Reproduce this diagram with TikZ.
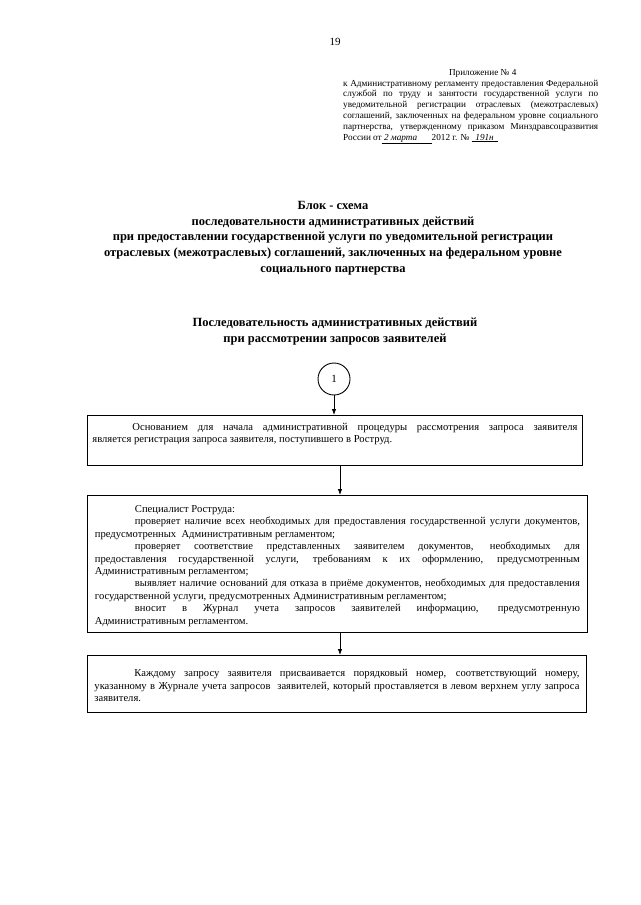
\documentclass[tikz,border=0pt]{standalone}
\usepackage{fontspec}
\setmainfont{Liberation Serif}
\usepackage{tikz}
\usetikzlibrary{arrows.meta,calc,positioning}

\newlength{\indw}
\setlength{\indw}{40pt}
% justified lines, with and without first-line indent
\newcommand{\jline}[1]{\makebox[\linewidth][s]{#1}\par}
\newcommand{\jfirst}[1]{\hspace*{\indw}\makebox[\dimexpr\linewidth-\indw\relax][s]{#1}\par}
\newcommand{\bodyfont}{\fontsize{10.6}{12.4}\selectfont}

\begin{document}
\begin{tikzpicture}[x=1pt, y=-1pt,
  stepbox/.style={draw, line width=0.9pt, anchor=north west, inner xsep=5pt, inner ysep=0pt},
  numcirc/.style={draw, circle, line width=0.9pt, minimum size=32pt, inner sep=0pt, font=\fontsize{11}{13}\selectfont},
  heading/.style={anchor=north, align=center, inner sep=0pt, font=\bfseries\fontsize{12.5}{15.8}\selectfont},
  note/.style={anchor=north west, inner sep=0pt},
  flow/.style={-{Latex[length=6pt,width=4.5pt]}, line width=0.8pt}]

\fill[white] (0,0) rectangle (640,905);

% page number and appendix note
\node[inner sep=0pt, font=\fontsize{11}{13}\selectfont] (pnum) at (335,42) {19};
\node[note, font=\fontsize{9.2}{10.8}\selectfont] (app) at (343,69) {\parbox[t]{255pt}{%
  \makebox[\linewidth]{\hspace{24pt}Приложение № 4}\par
  \jline{к Административному регламенту предоставления Федеральной}
  \jline{службой по труду и занятости государственной услуги по}
  \jline{уведомительной регистрации отраслевых (межотраслевых)}
  \jline{соглашений, заключенных на федеральном уровне социального}
  \jline{партнерства, утвержденному приказом Минздравсоцразвития}
  России от\underline{\makebox[50pt][l]{\itshape\ 2 марта}}2012 г. № \underline{\makebox[26pt]{\itshape 191н}}\par}};

% titles
\node[heading] (title) at (333,201) {Блок - схема\\
  последовательности административных действий\\
  при предоставлении государственной услуги по уведомительной регистрации\\
  отраслевых (межотраслевых) соглашений, заключенных на федеральном уровне\\
  социального партнерства};
\node[heading] (sub) at (335,318) {Последовательность административных действий\\
  при рассмотрении запросов заявителей};

% flow
\node[numcirc] (c1) at (334,379) {1};

\node[stepbox, minimum width=495pt] (b1) at (87,415) {\parbox[c][50pt][t]{485pt}{\bodyfont\vspace*{7.5pt}%
  \jfirst{Основанием для начала административной процедуры рассмотрения запроса заявителя}
  является регистрация запроса заявителя, поступившего в Роструд.\par}};

\node[stepbox, minimum width=500pt] (b2) at (87,495) {\parbox[c][137pt][t]{485pt}{\bodyfont\vspace*{10pt}%
  \hspace*{\indw}Специалист Роструда:\par
  \jfirst{проверяет наличие всех необходимых для предоставления государственной услуги документов,}
  предусмотренных~ Административным регламентом;\par
  \jfirst{проверяет соответствие представленных заявителем документов, необходимых для}
  \jline{предоставления государственной услуги, требованиям к их оформлению, предусмотренным}
  Административным регламентом;\par
  \jfirst{выявляет наличие оснований для отказа в приёме документов, необходимых для предоставления}
  государственной услуги, предусмотренных Административным регламентом;\par
  \jfirst{вносит в Журнал учета запросов заявителей информацию, предусмотренную}
  Административным регламентом.\par}};

\node[stepbox, minimum width=499pt] (b3) at (87,655) {\parbox[c][57pt][t]{485pt}{\bodyfont\vspace*{14pt}%
  \jfirst{Каждому запросу заявителя присваивается порядковый номер, соответствующий номеру,}
  \jline{указанному в Журнале учета запросов~ заявителей, который проставляется в левом верхнем углу запроса}
  заявителя.\par}};

\coordinate (ax) at (340,0);
\draw[flow] (c1) -- (c1 |- b1.north);
\draw[flow] (b1.south -| ax) -- (b2.north -| ax);
\draw[flow] (b2.south -| ax) -- (b3.north -| ax);

\end{tikzpicture}
\end{document}
